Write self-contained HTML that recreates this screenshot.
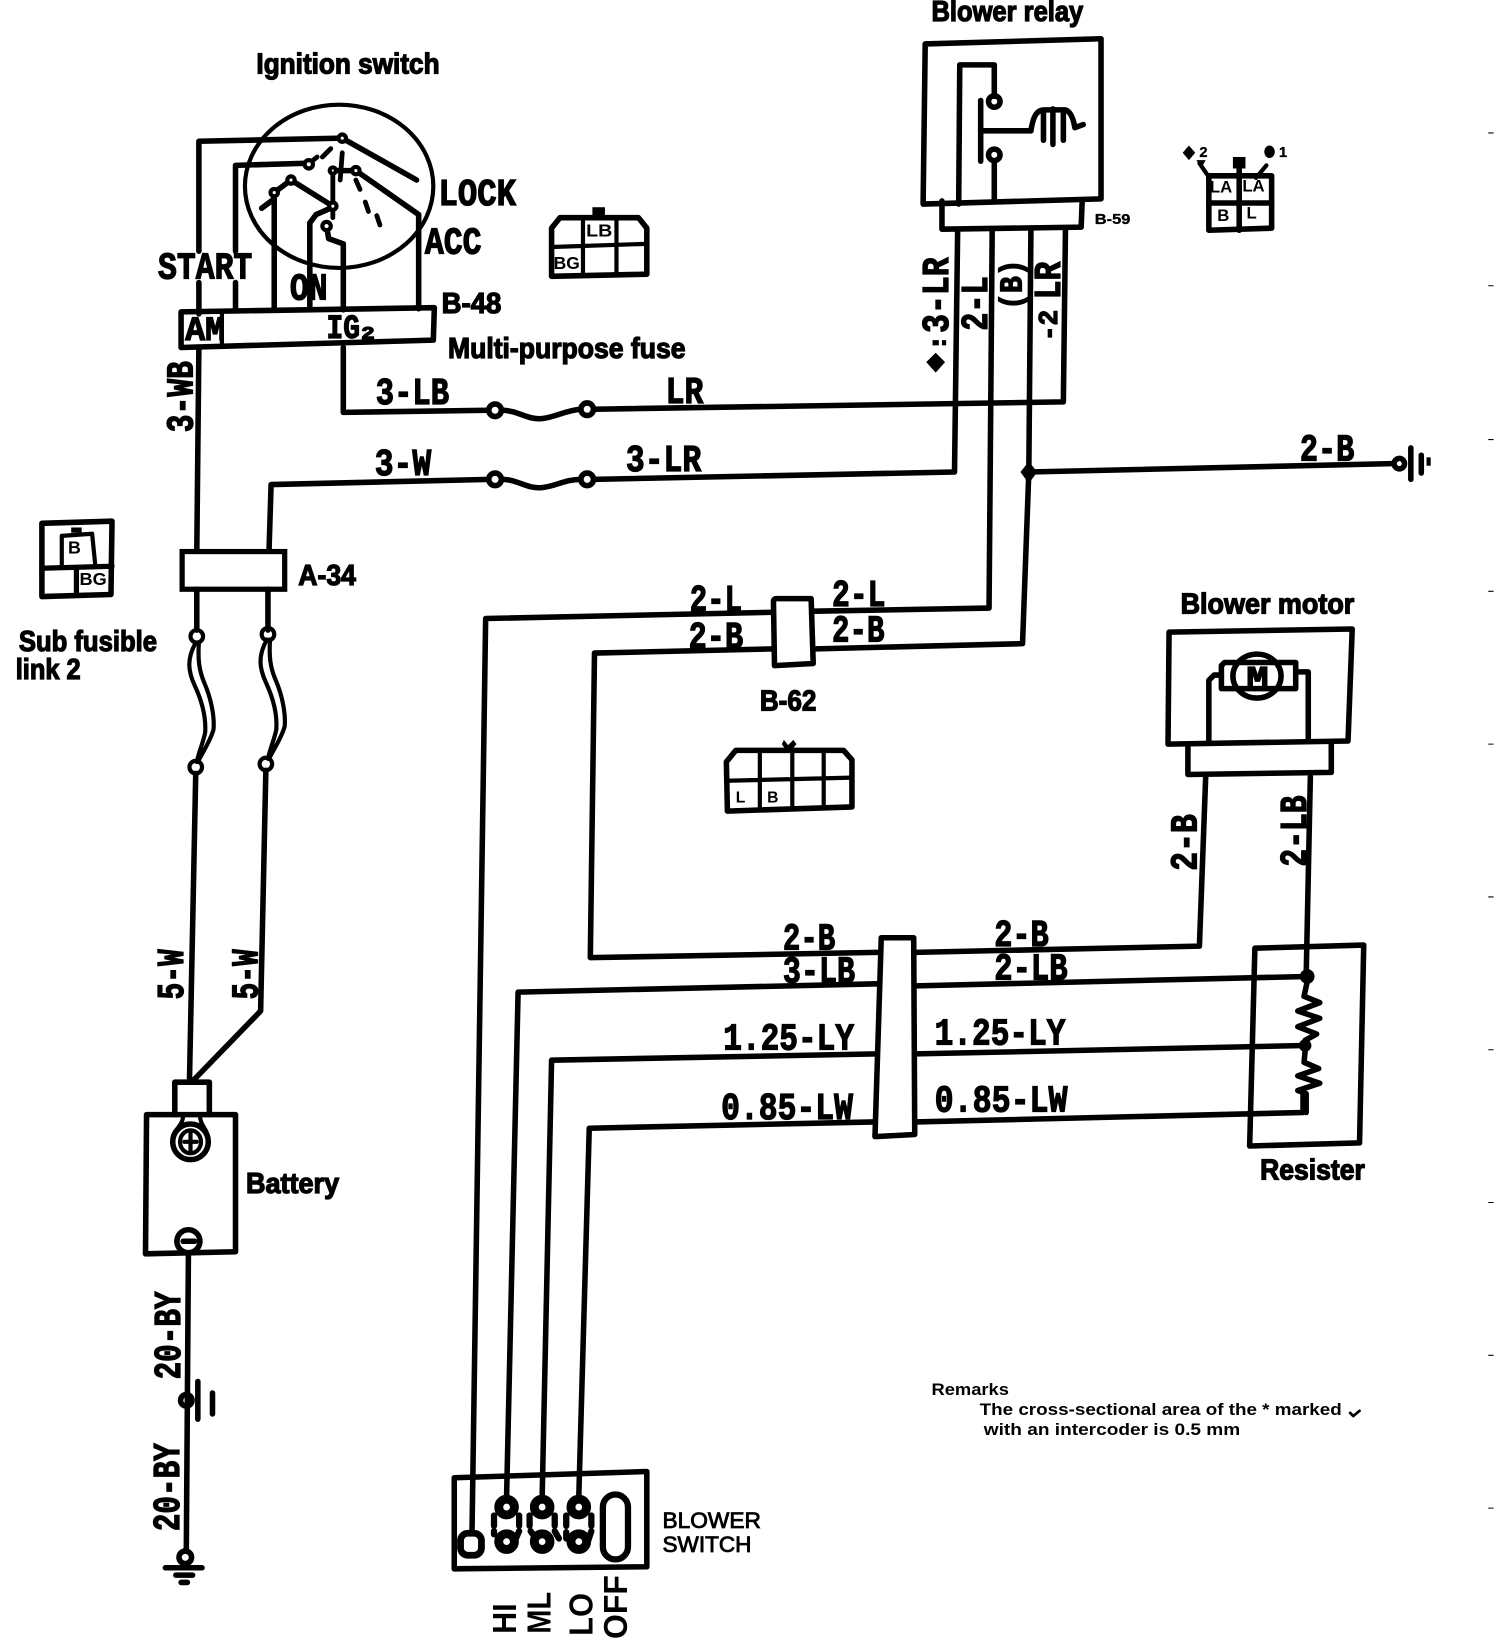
<!DOCTYPE html>
<html><head><meta charset="utf-8"><style>
html,body{margin:0;padding:0;background:#fff}
svg{display:block}
.w{fill:none;stroke:#000;stroke-width:5.3;stroke-linejoin:round;stroke-linecap:round}
.t{fill:none;stroke:#000;stroke-width:4;stroke-linejoin:round;stroke-linecap:round}
.h{fill:#fff;stroke:#000;stroke-width:5}
.d{fill:none;stroke:#000;stroke-width:4.6;stroke-linecap:round}
text{fill:#000}
.m{font:bold 36px "Liberation Mono",monospace;stroke:#000;stroke-width:1.2}
.b{font:bold 27px "Liberation Sans",sans-serif;stroke:#000;stroke-width:1.2}
.p{font:bold 17px "Liberation Sans",sans-serif}
.s{font:bold 14px "Liberation Sans",sans-serif;stroke:#000;stroke-width:.3}
.c{font:bold 15.5px "Liberation Sans",sans-serif}
</style></head><body>
<svg xmlns="http://www.w3.org/2000/svg" width="1504" height="1640" viewBox="0 0 1437 1567">
<rect width="1437" height="1567" fill="#fff"/>

<!-- Ignition switch -->
<ellipse class="t" cx="324" cy="178" rx="90" ry="78"/>
<path class="w" d="M190 240V135L327 132L398 172"/>
<path class="w" d="M190 270V300"/>
<path class="w" d="M225 240V158L293 156"/>
<path class="w" d="M225 270V297"/>
<path class="w" d="M262 296V190L250 199M262 184L278 172L318 197"/>
<path class="w" d="M296 296V213L302 205L318 198"/>
<path class="w" d="M312 216L314 228L328 233V296"/>
<path class="w" d="M400 295V205L340 163H318"/>
<path class="d" d="M316 142L308 150M327 146L325 172M318 165V192M318 200V208M340 172L344 181M349 193L352 202M360 206L363 215M293 158L303 150"/>
<g fill="#fff" stroke="#000" stroke-width="4">
<circle cx="327" cy="132" r="3.5"/><circle cx="295" cy="157" r="4"/><circle cx="278" cy="172" r="3.5"/><circle cx="262" cy="184" r="3.5"/><circle cx="318" cy="163" r="3"/><circle cx="340" cy="163" r="3.5"/><circle cx="318" cy="197" r="3.5"/><circle cx="312" cy="216" r="4"/>
</g>
<text class="b" x="245" y="70" textLength="175" lengthAdjust="spacingAndGlyphs">Ignition switch</text>
<text class="m" x="419" y="196" textLength="74" lengthAdjust="spacingAndGlyphs">LOCK</text>
<text class="m" x="406" y="242" textLength="54" lengthAdjust="spacingAndGlyphs">ACC</text>
<text class="m" x="151" y="266" textLength="90" lengthAdjust="spacingAndGlyphs">START</text>
<text class="m" x="277" y="286" textLength="36" lengthAdjust="spacingAndGlyphs">ON</text>
<path class="w" d="M173 298L415 294L414 325L173 332Z"/>
<path class="t" d="M212 298V331"/>
<text class="m" style="font-size:33px" x="177" y="325" textLength="38" lengthAdjust="spacingAndGlyphs">AM</text>
<text class="m" style="font-size:33px" x="312" y="323" textLength="32" lengthAdjust="spacingAndGlyphs">IG</text>
<text class="m" style="font-size:18px" x="345" y="324" textLength="13" lengthAdjust="spacingAndGlyphs">2</text>
<text class="b" x="422" y="299" textLength="57" lengthAdjust="spacingAndGlyphs">B-48</text>
<text class="b" x="428" y="342" textLength="227" lengthAdjust="spacingAndGlyphs">Multi-purpose fuse</text>

<!-- B-48 connector -->
<path class="w" d="M527 218L535 208H610L618 218V262L527 264Z"/>
<path class="t" d="M527 236L618 233M557 208V263M589 208V262"/>
<rect x="566" y="198" width="12" height="9"/>
<text class="p" x="560" y="226" textLength="25" lengthAdjust="spacingAndGlyphs">LB</text>
<text class="p" x="529" y="257" textLength="25" lengthAdjust="spacingAndGlyphs">BG</text>

<!-- Wires -->
<path class="w" d="M190 332L188 527"/>
<text class="m" transform="translate(184 413) rotate(-90)" textLength="68" lengthAdjust="spacingAndGlyphs">3-WB</text>
<path class="w" d="M328 332V394L468 392"/>
<path class="w" d="M567 391L1016 384L1018 220"/>
<path class="w" d="M257 527L259 463L468 458"/>
<path class="w" d="M567 458L912 451L915 220"/>
<path class="w" d="M948 220L945 581L778 584"/>
<path class="w" d="M985 220L983 451L977 615L780 620"/>
<path class="w" d="M983 451L1330 443"/>
<path d="M983 441L991 451L983 462L975 451Z"/>
<g class="w"><circle cx="473" cy="392" r="6" fill="#fff"/><circle cx="561" cy="391" r="6" fill="#fff"/><circle cx="473" cy="458" r="6" fill="#fff"/><circle cx="561" cy="458" r="6" fill="#fff"/></g>
<path class="w" d="M479 392C495 392 503 401 517 400C530 399 540 392 555 391"/>
<path class="w" d="M479 458C495 458 503 467 517 466C530 465 540 458 555 458"/>
<text class="m" x="359" y="386" textLength="70" lengthAdjust="spacingAndGlyphs">3-LB</text>
<text class="m" x="636" y="385" textLength="36" lengthAdjust="spacingAndGlyphs">LR</text>
<text class="m" x="358" y="454" textLength="54" lengthAdjust="spacingAndGlyphs">3-W</text>
<text class="m" x="598" y="450" textLength="72" lengthAdjust="spacingAndGlyphs">3-LR</text>
<text class="m" x="1242" y="440" textLength="52" lengthAdjust="spacingAndGlyphs">2-B</text>
<!-- Ground right -->
<circle class="w" cx="1337" cy="443" r="5" fill="#fff"/>
<path class="w" d="M1348 428V458M1358 435V452"/>
<path d="M1363 437h4v8h-4z"/>

<!-- Blower relay -->
<path class="w" d="M884 42L1052 37V190L882 195Z"/>
<path class="w" d="M900 192V219L1033 217L1034 192"/>
<path class="w" d="M916 195L917 62L950 62V92"/>
<circle class="w" cx="950" cy="97" r="5.5" fill="#fff"/>
<circle class="w" cx="950" cy="148" r="5.5" fill="#fff"/>
<path class="w" d="M950 154V190"/>
<path class="w" d="M937 96V154"/>
<path class="w" d="M937 125H985"/>
<path class="w" d="M985 125C987 112 990 105 998 105H1018C1024 107 1026 116 1027 122L1035 119M997 106V134M1006 104V138M1016 106V134"/>
<text class="b" x="890" y="20" textLength="145" lengthAdjust="spacingAndGlyphs">Blower relay</text>
<text class="s" x="1046" y="214" textLength="34" lengthAdjust="spacingAndGlyphs">B-59</text>
<text class="m" transform="translate(906 318) rotate(-90)" textLength="72" lengthAdjust="spacingAndGlyphs">3-LR</text>
<text class="m" transform="translate(943 316) rotate(-90)" textLength="52" lengthAdjust="spacingAndGlyphs">2-L</text>
<text class="m" style="font-size:30px" transform="translate(976 296) rotate(-90)" textLength="48" lengthAdjust="spacingAndGlyphs">(B)</text>
<text class="m" transform="translate(1013 286) rotate(-90)" textLength="36" lengthAdjust="spacingAndGlyphs">LR</text>
<text class="m" style="font-size:26px" transform="translate(1010 326) rotate(-90)" textLength="30" lengthAdjust="spacingAndGlyphs">-2</text>
<path d="M894 337L903 346L894 356L885 346Z"/><path d="M891 325h6v5h-6zM900 325h4v5h-4z"/>

<!-- LA connector -->
<path class="w" d="M1155 168H1215V218L1155 220Z"/>
<path class="w" d="M1155 194H1215M1184 162V220"/>
<rect x="1178" y="150" width="12" height="11"/>
<path d="M1136 139L1142 146L1136 153L1130 146Z"/><ellipse cx="1213" cy="145" rx="5" ry="6"/>
<path class="t" d="M1146 156L1155 169M1210 158L1200 170"/>
<path d="M1143 153L1152 153L1148 160Z"/>
<text class="s" x="1146" y="150">2</text><text class="s" x="1222" y="150">1</text>
<text class="p" x="1156" y="184" style="font-size:16px">LA</text><text class="p" x="1187" y="183" style="font-size:16px">LA</text>
<text class="p" x="1163" y="211" style="font-size:16px">B</text><text class="p" x="1191" y="209" style="font-size:16px">L</text>

<!-- Sub fusible connector -->
<path class="w" d="M40 500L107 498L106 568L40 570Z"/>
<path class="t" style="stroke-width:5" d="M40 543L107 541M73 543V568"/>
<path class="t" d="M59 540V512L88 510L91 540"/>
<path d="M68 504h10v5h-10z"/>
<text class="p" x="65" y="529">B</text>
<text class="p" x="76" y="559" textLength="26" lengthAdjust="spacingAndGlyphs">BG</text>
<text class="b" x="18" y="622" textLength="132" lengthAdjust="spacingAndGlyphs">Sub fusible</text>
<text class="b" x="15" y="649" textLength="62" lengthAdjust="spacingAndGlyphs">link 2</text>

<!-- A-34 and fusible links -->
<rect class="h" x="174" y="527" width="98" height="36"/>
<text class="b" x="285" y="559" textLength="55" lengthAdjust="spacingAndGlyphs">A-34</text>
<path class="w" d="M188 563V602M256 563V602"/>
<circle class="t" cx="188" cy="608" r="6" fill="#fff"/><circle class="t" cx="256" cy="606" r="6" fill="#fff"/>
<circle class="t" cx="187" cy="733" r="6" fill="#fff"/><circle class="t" cx="254" cy="730" r="6" fill="#fff"/>
<path class="t" d="M187 614C178 630 180 642 186 655C193 670 197 685 196 700C194 710 190 718 188 728M190 614C189 630 190 640 195 652C202 668 205 685 204 697C201 708 194 718 189 728"/>
<path class="t" d="M255 611C246 627 248 639 254 652C261 667 265 682 264 697C262 707 258 715 256 725M258 611C257 627 258 637 263 649C270 665 273 682 272 694C269 705 262 715 257 725"/>
<path class="w" d="M187 739L181 1033"/>
<path class="w" d="M254 736L249 966L184 1033"/>
<text class="m" transform="translate(175 955) rotate(-90)" textLength="48" lengthAdjust="spacingAndGlyphs">5-W</text>
<text class="m" transform="translate(246 955) rotate(-90)" textLength="48" lengthAdjust="spacingAndGlyphs">5-W</text>

<!-- Battery -->
<path class="w" d="M167 1065V1034H200V1065"/>
<path class="w" d="M140 1065H225V1196L139 1198Z"/>
<path class="t" d="M175 1065C175 1075 168 1078 166 1084M191 1065C191 1075 197 1078 198 1084"/>
<ellipse class="w" cx="182" cy="1091" rx="17" ry="17"/>
<ellipse class="t" cx="182" cy="1091" rx="10" ry="11"/>
<path class="t" d="M182 1082V1100M176 1091H188"/>
<circle class="w" cx="180" cy="1186" r="11" fill="#fff"/>
<path class="w" d="M175 1186H186"/>
<text class="b" x="235" y="1140" textLength="89" lengthAdjust="spacingAndGlyphs">Battery</text>
<path class="w" d="M180 1197L178 1480"/>
<circle class="w" cx="178" cy="1338" r="5.5" fill="#fff"/>
<path class="w" d="M189 1320V1356M203 1331V1351"/>
<text class="m" transform="translate(172 1318) rotate(-90)" textLength="84" lengthAdjust="spacingAndGlyphs">20-BY</text>
<text class="m" transform="translate(171 1463) rotate(-90)" textLength="84" lengthAdjust="spacingAndGlyphs">20-BY</text>
<circle class="w" cx="177" cy="1488" r="6" fill="#fff"/>
<path class="w" d="M158 1498H193M168 1505H184M173 1512H179"/>

<!-- B-62 -->
<path class="w" d="M739 575Q739 572 742 572H775L777 634L740 636Z" fill="#fff"/>
<path class="w" d="M739 585L464 591L451 1462"/>
<path class="w" d="M739 620L568 624L564 915L838 910"/>
<text class="m" x="659" y="584" textLength="50" lengthAdjust="spacingAndGlyphs">2-L</text>
<text class="m" x="658" y="619" textLength="52" lengthAdjust="spacingAndGlyphs">2-B</text>
<text class="m" x="795" y="579" textLength="51" lengthAdjust="spacingAndGlyphs">2-L</text>
<text class="m" x="795" y="613" textLength="50" lengthAdjust="spacingAndGlyphs">2-B</text>
<text class="b" x="726" y="679" textLength="54" lengthAdjust="spacingAndGlyphs">B-62</text>
<path class="w" d="M694 728L703 717H806L814 726V771L695 775Z"/>
<path class="t" d="M695 746L814 743M726 718V773M757 717V773M787 717V772"/>
<path d="M749 707L753 712L758 707L761 711L756 717H751L747 711Z"/>
<text class="p" x="703" y="767" style="font-size:15px">L</text>
<text class="p" x="733" y="767" style="font-size:15px">B</text>

<!-- Centre connector -->
<path class="w" d="M838 940L495 948L484 1430"/>
<path class="w" d="M838 1007L527 1013L518 1430"/>
<path class="w" d="M835 1072L563 1078L553 1430"/>
<path class="w" d="M875 910L1146 904L1152 742"/>
<path class="w" d="M875 942L1248 933"/>
<path class="w" d="M875 1007L1246 999"/>
<path class="w" d="M875 1072L1245 1063V1045"/>
<path class="w" d="M1252 742L1248 933"/>
<path class="w" d="M842 896H873L874 1084L836 1086Z" fill="#fff"/>
<text class="m" x="748" y="907" textLength="50" lengthAdjust="spacingAndGlyphs">2-B</text>
<text class="m" x="748" y="939" textLength="69" lengthAdjust="spacingAndGlyphs">3-LB</text>
<text class="m" x="691" y="1003" textLength="125" lengthAdjust="spacingAndGlyphs">1.25-LY</text>
<text class="m" x="689" y="1069" textLength="126" lengthAdjust="spacingAndGlyphs">0.85-LW</text>
<text class="m" x="950" y="904" textLength="52" lengthAdjust="spacingAndGlyphs">2-B</text>
<text class="m" x="950" y="936" textLength="70" lengthAdjust="spacingAndGlyphs">2-LB</text>
<text class="m" x="893" y="998" textLength="125" lengthAdjust="spacingAndGlyphs">1.25-LY</text>
<text class="m" x="893" y="1062" textLength="127" lengthAdjust="spacingAndGlyphs">0.85-LW</text>

<!-- Blower motor -->
<path class="w" d="M1117 604L1292 601L1288 708L1116 711Z"/>
<path class="w" d="M1135 712V740L1272 738V710"/>
<text class="b" x="1128" y="586" textLength="166" lengthAdjust="spacingAndGlyphs">Blower motor</text>
<path class="w" d="M1155 710V650L1160 645H1167M1250 708V642H1240"/>
<path class="w" d="M1170 633H1238V658H1167V636Z"/>
<ellipse class="w" cx="1201" cy="646" rx="23" ry="21" fill="#fff"/>
<text class="m" style="font-size:28px" x="1191" y="656" textLength="21" lengthAdjust="spacingAndGlyphs">M</text>
<text class="m" transform="translate(1143 832) rotate(-90)" textLength="54" lengthAdjust="spacingAndGlyphs">2-B</text>
<text class="m" transform="translate(1248 828) rotate(-90)" textLength="68" lengthAdjust="spacingAndGlyphs">2-LB</text>

<!-- Resister -->
<path class="w" d="M1199 906L1303 903L1299 1092L1194 1095Z"/>
<circle cx="1249" cy="933" r="7"/><circle cx="1247" cy="999" r="6"/>
<path class="w" d="M1249 938L1246 952L1261 958L1240 966L1261 973L1240 981L1258 988L1247 994V1004L1246 1015L1260 1021L1240 1028L1261 1035L1240 1042L1248 1045V1063"/>
<text class="b" x="1204" y="1127" textLength="100" lengthAdjust="spacingAndGlyphs">Resister</text>

<!-- Blower switch -->
<path class="w" d="M434 1412L618 1406V1497L434 1499Z"/>
<rect x="440" y="1465" width="20" height="21" rx="7" fill="#fff" stroke="#000" stroke-width="6.5"/>
<rect x="576" y="1428" width="24" height="62" rx="12" fill="#fff" stroke="#000" stroke-width="6"/>
<g fill="#fff" stroke="#000" stroke-width="8.5">
<circle cx="484" cy="1440" r="7.5"/><circle cx="484" cy="1473" r="7.5"/>
<circle cx="518" cy="1440" r="7.5"/><circle cx="518" cy="1473" r="7.5"/>
<circle cx="553" cy="1440" r="7.5"/><circle cx="553" cy="1473" r="7.5"/>
</g>
<path class="d" style="stroke-width:6" d="M472 1448V1458M496 1448V1458M472 1463V1466M496 1463L492 1472M506 1448V1458M530 1448V1458M507 1463L512 1470M530 1463L534 1470M541 1448V1458M565 1448V1458M541 1464V1470M565 1463L562 1472"/>
<text style="font:21px 'Liberation Sans',sans-serif;stroke:#000;stroke-width:.8" x="633" y="1460" textLength="94" lengthAdjust="spacingAndGlyphs">BLOWER</text>
<text style="font:21px 'Liberation Sans',sans-serif;stroke:#000;stroke-width:.8" x="633" y="1483" textLength="85" lengthAdjust="spacingAndGlyphs">SWITCH</text>
<g style="font:bold 32px 'Liberation Sans',sans-serif">
<text transform="translate(493 1561) rotate(-90)" textLength="29" lengthAdjust="spacingAndGlyphs">HI</text>
<text transform="translate(526 1561) rotate(-90)" textLength="40" lengthAdjust="spacingAndGlyphs">ML</text>
<text transform="translate(566 1563) rotate(-90)" textLength="41" lengthAdjust="spacingAndGlyphs">LO</text>
<text transform="translate(599 1566) rotate(-90)" textLength="61" lengthAdjust="spacingAndGlyphs">OFF</text>
</g>

<!-- Remarks -->
<text class="c" x="890" y="1333" textLength="74" lengthAdjust="spacingAndGlyphs">Remarks</text>
<text class="c" x="936" y="1352" textLength="346" lengthAdjust="spacingAndGlyphs">The cross-sectional area of the  *  marked</text>
<path class="t" style="stroke-width:2.6" d="M1290 1350L1293 1353L1299 1348"/>
<text class="c" x="940" y="1371" textLength="245" lengthAdjust="spacingAndGlyphs">with an intercoder is 0.5 mm</text>

<!-- Margin ticks -->
<path stroke="#000" stroke-width="1" d="M1422 127h5M1422 273h5M1422 420h5M1422 565h5M1422 711h5M1422 857h5M1422 1003h5M1422 1149h5M1422 1295h5M1422 1441h5"/>
</svg>
</body></html>
